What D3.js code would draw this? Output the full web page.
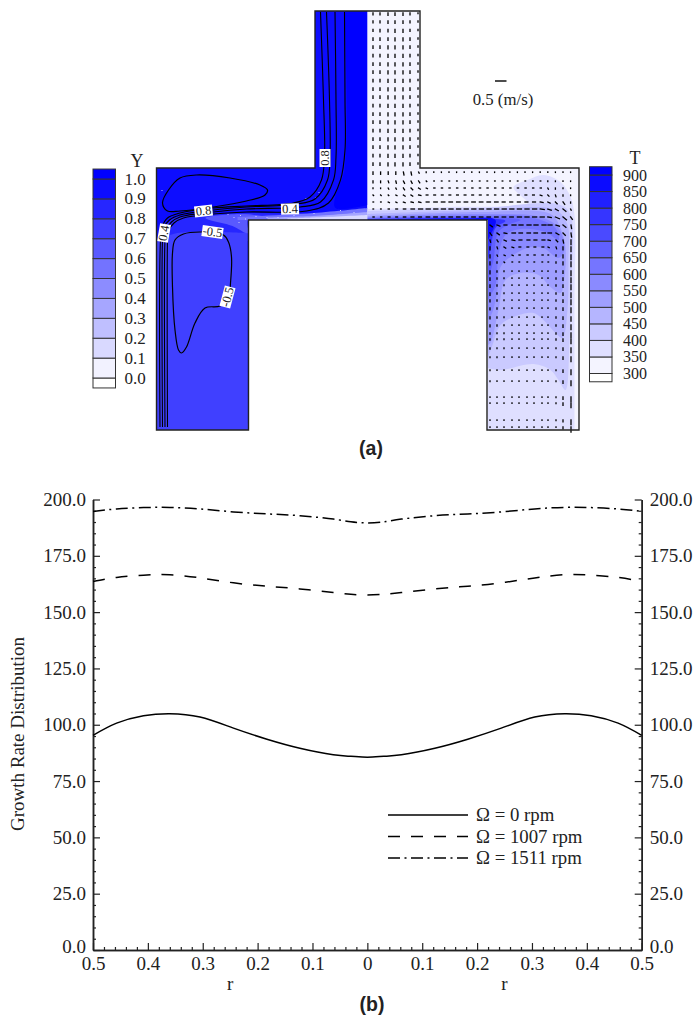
<!DOCTYPE html>
<html>
<head>
<meta charset="utf-8">
<script src="https://cdnjs.cloudflare.com/ajax/libs/d3/7.8.5/d3.min.js"></script>
<style>
body { margin: 0; background: #fff; }
text { font-family: "Liberation Serif", serif; fill: #222; }
.panel { font-family: "Liberation Sans", sans-serif; font-weight: 700; font-size: 19.5px; }
</style>
</head>
<body>
<svg id="chart" width="693" height="1016"></svg>
<script>
// panel (b) growth rate curves
const radius = [-0.5,-0.457,-0.408,-0.36,-0.305,-0.244,-0.183,-0.123,-0.062,-0.03,0,0.03,0.062,0.123,0.183,0.244,0.305,0.36,0.408,0.457,0.5]
const rate0 = [95.3,100.7,104,104.9,103.4,98.5,93.6,89.6,86.7,86,85.6,86,86.7,89.6,93.6,98.5,103.4,104.9,104,100.7,95.3]
const rate1007 = [163.6,165.4,166.4,166.6,165.2,163,161.5,160.3,158.7,157.9,157.6,157.9,158.7,160.3,161.5,163,165.2,166.6,166.4,165.4,163.6]
const rate1511 = [194.7,195.8,196.4,196.5,195.8,194.5,193.6,192.8,191.3,190.1,189.6,190.1,191.3,192.8,193.6,194.5,195.8,196.5,196.4,195.8,194.7]
const seriesNames = ["\u03a9 = 0 rpm", "\u03a9 = 1007 rpm", "\u03a9 = 1511 rpm"]
const seriesDash = [null, "12,11", "12,4.5,2,4.5"]

// panel (a) colour bars
const yLevels = [-0.05,0,0.1,0.2,0.3,0.4,0.5,0.6,0.7,0.8,0.9,1,1.05]
const yLabels = [0,0.1,0.2,0.3,0.4,0.5,0.6,0.7,0.8,0.9,1]
const tLevels = [275,300,350,400,450,500,550,600,650,700,750,800,850,900,925]
const tLabels = [300,350,400,450,500,550,600,650,700,750,800,850,900]

// reactor outline, in cell units
const cellOutline = [[-52.5,0],[52.5,0],[52.5,157],[211.5,157],[211.5,419],[119.5,419],[119.5,209],[-119,209],[-119,419],[-211,419],[-211,157],[-52.5,157]]
const leftHalf = [[-52.5,0],[0,0],[0,209],[-119,209],[-119,419],[-211,419],[-211,157],[-52.5,157]]
const rightHalf = [[0,0],[52.5,0],[52.5,157],[211.5,157],[211.5,419],[119.5,419],[119.5,209],[0,209]]

// Y field bands: [level, outline, how many trailing points are straight wall]
const yBands = [
    [0.95, leftHalf, 8],
    [1.05, [[-23,0],[-23,159],[-32,184],[-32,197],[0,194],[0,0]], 1],
    [0.85, [[-205,214],[-190,206],[-121,202],[-60,203],[0,203],[0,209],[-119.5,209],[-119.5,230],[-200,232]], 4],
    [0.75, [[-212,230],[-190,222],[-120,222],[-119.5,419],[-212,419]], 2],
    [0.65, [[-162,207],[-125,203],[-100,206],[-85,209],[-119.5,209],[-119.5,222],[-135,215]], 0],
    [0.55, [[-130,206],[-54,202],[0,197],[0,209],[-130,209]], 2],
    [0.35, [[-100,206.5],[-54,205],[0,201],[0,209],[-100,209]], 2],
    [0.15, [[-80,207.5],[-54,206.5],[0,204],[0,208],[-80,208.5]], 2]
]
const specks = [[-134,206],[-127.5,204],[-122.5,207.5],[-129,211],[-101,206],[-74,204],[-54,202],[-27.5,199],[-14,201],[-52,186],[-49,181],[-62,187],[-206,179],[-140,203],[-112,205],[-90,206]]

// T field bands, each ends on the inner wall
const tBands = [
    [325, rightHalf, 8],
    [375, [[0,198],[82,196],[160,192],[150,182],[146,176],[160,169],[176,164],[193,171],[203,186],[207,204],[207,289],[207,418],[120.5,418],[120.5,209],[0,209]], 3],
    [425, [[0,200],[113,197],[193,194],[203,204],[204,269],[202,329],[198,379],[191,369],[183,359],[166,353],[133,359],[120.5,357],[120.5,209],[0,209]], 2],
    [475, [[0,203],[113,199],[188,199],[200,214],[201,249],[200,299],[195,327],[188,322],[178,311],[166,302],[146,306],[133,314],[125,334],[120.5,347],[120.5,209],[0,209]], 2],
    [525, [[0,205],[113,201],[183,203],[193,217],[198,236],[197,266],[193,282],[183,276],[171,264],[153,262],[138,269],[131,299],[123,332],[120.5,334],[120.5,209],[0,209]], 2],
    [575, [[0,206],[113,203],[173,206],[191,217],[197,239],[191,247],[176,237],[163,236],[143,246],[133,256],[130,279],[125,301],[120.5,309],[120.5,209],[0,209]], 2],
    [625, [[0,207],[113,204.5],[163,206],[188,217],[191,229],[178,221],[153,218],[138,224],[131,244],[128,274],[120.5,289],[120.5,209],[0,209]], 2],
    [675, [[0,207.5],[118,206],[153,209],[143,213],[131,221],[126,249],[120.5,269],[120.5,209],[0,209]], 2],
    [775, [[0,208],[120,207.5],[138,210],[128,217],[123,239],[120.5,249],[120.5,209],[0,209]], 2],
    [875, [[0,208.5],[100,207.5],[128,209],[123,224],[120.5,229],[120.5,209],[0,209]], 2]
]

// Y contour lines
const contourA = [[-47,1],[-44,89],[-43,146],[-46,169],[-57.5,186],[-74,192],[-121,195],[-154,197],[-187.5,202],[-200,207],[-205.5,216],[-207,229],[-207.5,416]]
const contourB = [[-41,1],[-38,89],[-37.5,146],[-40,169],[-52.5,188],[-71,193],[-121,196],[-154,199],[-187.5,204],[-198,209],[-204,217],[-205,229],[-205,416]]
const contourC = [[-32.5,1],[-31.5,89],[-31.5,146],[-34,169],[-47,191],[-67.5,196],[-121,198],[-154,201],[-187.5,206],[-196,211],[-201.5,219],[-202.5,229],[-202.5,416]]
const contourD = [[-23,1],[-22.5,89],[-22.5,139],[-27,169],[-39,192],[-61,200],[-121,201],[-154,203],[-184,207],[-193.5,212],[-199.5,221],[-200,229],[-200,416]]
const loopUpper = [[-171,164],[-187.5,167],[-199,179],[-205,192],[-200,200],[-187.5,200],[-154,196],[-121,190],[-102.5,184],[-100,179],[-107.5,174],[-137.5,167]]
const loopLower = [[-166,221],[-184,223],[-192.5,229],[-195,242],[-195,276],[-192.5,319],[-189,339],[-186,342],[-181,336],[-172.5,312],[-162.5,297],[-147.5,295],[-139,287],[-137,272],[-136,246],[-139,231],[-144,224]]
const contourLabels = [["0.8",-42.5,147,-90],["0.8",-164,200,-6],["0.4",-77.5,198,-2],["0.4",-203.5,222,-80],["-0.5",-155,221,8],["-0.5",-140,286,-75]]

// velocity tables, one digit = 0.025 m/s
const channelX = [5.5,12.5,20.5,27.5,35.5,42.5,50.5]
const channelY = [2,10,18.5,27,35,43.5,52,60,68.5,77,85,93.5,102,110,118.5,127,135,143.5,152]
const channelV = ["3344431","3344432","3445532","4445542","4455542","4455542","4455542","4455542","4455542","4455542","4455542","4455542","4455542","4455542","4455542","4455542","4455542","4455542","4455542"]
const armX = d3.range(27).map(i => 5.5 + i * 7.6)
const armY = [161,170,177,184,191,198,206]
const armU = ["000011100000000000000000000","001122211111111111111110000","001123322222222222222221000","111233433333333222233332100","112234456666666665555554330","112346777777777777777776551","223345566666666666677776763"]
const armV = ["444455210000000000000000000","333444310000000000000001100","112233210000000000000002210","111122100000000000000012321","001111100000000000000012342","000000000000000000000012342","000000000000000000000001354"]
const legX = [122.5,129.5,136.5,144.5,151.5,159.5,166.5,174.5,180.5,188.5,195.5,203.5]
const legY = [214,222,229,236,244,251,260,267,274,282,289,297,306,314,322,328,337,346,359,370,386,392,409,416]
const legU = ["455777777651","345666666541","124555554310","013333332100","012222221000","001111111000"]
const legV = ["320000000246","431000000347","432100001358","532100001358","521100000258","521000000258","521000000248","421000000248","421000000248","421000000248","321000000248","321000000248","321000000247","321000000248","211000000248","211000000248","211000000148","110000000148","100000000148","100000000148","000000000148","000000000148","000000000138","000000000039"]

const svg = d3.select("#chart")

// scales
const xCell = d3.scaleLinear().domain([-212,212]).range([155.5,579.5])
const yCell = d3.scaleLinear().domain([0,419]).range([11,430])
const speedPx = d3.scaleLinear().domain([0,0.5]).range([0,11.5])
const shade = d3.interpolateRgb("#ffffff", "#0000ff")
const yColor = d3.scaleLinear().domain([0,1]).range([0,1]).clamp(true)
const tColor = d3.scaleLinear().domain([300,900]).range([0,1]).clamp(true)

const smoothClosed = d3.line().x(d => xCell(d[0])).y(d => yCell(d[1])).curve(d3.curveCatmullRomClosed.alpha(0.5))
const openLine = d3.line().x(d => xCell(d[0])).y(d => yCell(d[1])).curve(d3.curveCatmullRom.alpha(0.5))
const straight = d3.line().x(d => xCell(d[0])).y(d => yCell(d[1])).curve(d3.curveLinearClosed)

// smooth edge, then straight along the walls
function bandPath(d) {
    const pts = d[1], wall = d[2]
    if (wall == 0) return smoothClosed(pts)
    if (wall >= pts.length) return straight(pts)
    const edge = pts.slice(0, pts.length - wall)
    const rest = pts.slice(pts.length - wall)
    return openLine(edge) + rest.map(p => "L" + xCell(p[0]) + "," + yCell(p[1])).join("") + "Z"
}

const defs = svg.append("defs")
defs.append("clipPath").attr("id", "clipLeft").append("path").attr("d", straight(leftHalf))
defs.append("clipPath").attr("id", "clipRight").append("path").attr("d", straight(rightHalf))

// Y field
const leftField = svg.append("g").attr("clip-path", "url(#clipLeft)")
leftField.selectAll("path")
    .data(yBands)
    .enter().append("path")
    .attr("d", bandPath)
    .attr("fill", d => shade(yColor(d[0])))
leftField.selectAll("rect")
    .data(specks)
    .enter().append("rect")
    .attr("x", d => xCell(d[0]))
    .attr("y", d => yCell(d[1]))
    .attr("width", 1)
    .attr("height", 1)
    .attr("fill", "#fff")
    .attr("opacity", 0.7)

// T field
const rightField = svg.append("g").attr("clip-path", "url(#clipRight)")
rightField.selectAll("path")
    .data(tBands)
    .enter().append("path")
    .attr("d", bandPath)
    .attr("fill", d => shade(tColor(d[0])))

// contour lines
svg.append("g").selectAll("path")
    .data([contourA, contourB, contourC, contourD])
    .enter().append("path")
    .attr("d", d => openLine(d))
    .attr("fill", "none")
    .attr("stroke", "#000")
    .attr("stroke-width", 1.1)
svg.append("g").selectAll("path")
    .data([loopUpper, loopLower])
    .enter().append("path")
    .attr("d", d => smoothClosed(d))
    .attr("fill", "none")
    .attr("stroke", "#000")
    .attr("stroke-width", 1.2)

const tag = svg.append("g").selectAll("g")
    .data(contourLabels)
    .enter().append("g")
    .attr("transform", d => "translate(" + xCell(d[1]) + "," + yCell(d[2]) + ") rotate(" + d[3] + ")")
tag.append("rect")
    .attr("x", d => d[0].length > 3 ? -10.5 : -9)
    .attr("y", -5.5)
    .attr("width", d => d[0].length > 3 ? 21 : 18)
    .attr("height", 11)
    .attr("fill", "#fff")
tag.append("text")
    .attr("text-anchor", "middle")
    .attr("y", 4)
    .attr("font-size", "12.5px")
    .text(d => d[0])

// velocity vectors
const vectors = []
function addVectors(xs, ys, us, vs) {
    ys.forEach(function(y, i) {
        xs.forEach(function(x, j) {
            const u = us[i] ? +us[i][j] * 0.025 : 0
            const v = vs[i] ? +vs[i][j] * 0.025 : 0
            vectors.push({ x: x, y: y, u: u, v: v })
        })
    })
}
addVectors(channelX, channelY, [], channelV)
addVectors(armX, armY, armU, armV)
addVectors(legX, legY, legU, legV)

svg.append("g").selectAll("line")
    .data(vectors)
    .enter().append("line")
    .attr("x1", d => xCell(d.x))
    .attr("y1", d => yCell(d.y))
    .attr("x2", d => xCell(d.x) + speedPx(d.u))
    // still vectors keep a visible dot
    .attr("y2", d => yCell(d.y) + speedPx(d.u + d.v > 0 ? d.v : 0.02))
    .attr("stroke", "#000")
    .attr("stroke-width", 1.3)
    .attr("stroke-linecap", "square")

// outline on top
svg.append("path")
    .attr("d", straight(cellOutline))
    .attr("fill", "none")
    .attr("stroke", "#222")
    .attr("stroke-width", 1.4)

// reference vector
const refX = xCell(127.5), refY = yCell(70)
svg.append("line")
    .attr("x1", refX)
    .attr("x2", refX + speedPx(0.5))
    .attr("y1", refY)
    .attr("y2", refY)
    .attr("stroke", "#000")
    .attr("stroke-width", 1.4)
svg.append("text")
    .attr("x", 503)
    .attr("y", 105)
    .attr("text-anchor", "middle")
    .attr("font-size", "16.8px")
    .text("0.5 (m/s)")

// colour bars
function colorBar(levels, labels, scale, color, x0, x1, labelX, size, fmt, title, titleX, titleY) {
    const g = svg.append("g")
    g.selectAll("rect")
        .data(d3.pairs(levels))
        .enter().append("rect")
        .attr("x", x0)
        .attr("width", x1 - x0)
        .attr("y", d => scale(d[1]))
        .attr("height", d => scale(d[0]) - scale(d[1]))
        .attr("fill", d => shade(color((d[0] + d[1]) / 2)))
        .attr("stroke", "#333")
        .attr("stroke-width", 1)
    g.selectAll("text")
        .data(labels)
        .enter().append("text")
        .attr("x", labelX)
        .attr("y", d => scale(d) + 5.5)
        .attr("font-size", size + "px")
        .text(fmt)
    g.append("text")
        .attr("x", titleX)
        .attr("y", titleY)
        .attr("text-anchor", "middle")
        .attr("font-size", "18px")
        .text(title)
}
colorBar(yLevels, yLabels, d3.scaleLinear().domain([0,1]).range([378,179]), yColor, 93, 115.5, 124.5, 17, d3.format(".1f"), "Y", 137, 167)
colorBar(tLevels, tLabels, d3.scaleLinear().domain([300,900]).range([373.5,175]), tColor, 589.5, 612, 623, 16, d => d, "T", 635, 164)

svg.append("text").attr("class", "panel").attr("x", 371).attr("y", 455).attr("text-anchor", "middle").text("(a)")

// panel (b)
const x = d3.scaleLinear().domain([-0.5,0.5]).range([93,641.7])
const y = d3.scaleLinear().domain([0,200]).range([950,499.5])

const yMajor = d3.range(0, 201, 25)
const yMinor = d3.range(0, 201, 5).filter(d => d % 25 != 0)
const xMajor = d3.range(-5, 6).map(d => d / 10)
const xMinor = d3.range(-50, 51, 2).filter(d => d % 10 != 0).map(d => d / 100)
const yFmt = d3.format(".1f")
const xFmt = d => Math.abs(d) < 1e-9 ? "0" : d3.format(".1f")(Math.abs(d))

function styleAxis(g) {
    g.selectAll("text").attr("font-size", "19px").attr("fill", "#222")
        .style("font-family", '"Liberation Serif", serif')
    g.select(".domain").attr("stroke", "#222").attr("stroke-width", 1.5)
    g.selectAll(".tick line").attr("stroke", "#222").attr("stroke-width", 1.2)
}
// the 0.0 label sits a little above the corner
function liftZero(g) {
    g.selectAll(".tick").filter(d => d == 0).select("text").attr("dy", "0.12em")
}

svg.append("g").attr("transform", "translate(93,0)")
    .call(d3.axisLeft(y).tickValues(yMajor).tickFormat(yFmt).tickSizeInner(-7).tickSizeOuter(0).tickPadding(7))
    .call(styleAxis).call(liftZero)
svg.append("g").attr("transform", "translate(93,0)")
    .call(d3.axisLeft(y).tickValues(yMinor).tickFormat("").tickSizeInner(-3).tickSizeOuter(0))
    .call(styleAxis)
svg.append("g").attr("transform", "translate(641.7,0)")
    .call(d3.axisRight(y).tickValues(yMajor).tickFormat(yFmt).tickSizeInner(-7).tickSizeOuter(0).tickPadding(8))
    .call(styleAxis).call(liftZero)
svg.append("g").attr("transform", "translate(641.7,0)")
    .call(d3.axisRight(y).tickValues(yMinor).tickFormat("").tickSizeInner(-3).tickSizeOuter(0))
    .call(styleAxis)
svg.append("g").attr("transform", "translate(0,950)")
    .call(d3.axisBottom(x).tickValues(xMajor).tickFormat(xFmt).tickSizeInner(-7).tickSizeOuter(0).tickPadding(7))
    .call(styleAxis)
svg.append("g").attr("transform", "translate(0,950)")
    .call(d3.axisBottom(x).tickValues(xMinor).tickFormat("").tickSizeInner(-3).tickSizeOuter(0))
    .call(styleAxis)

const curve = d3.line()
    .x((d, i) => x(radius[i]))
    .y(d => y(d))
    .curve(d3.curveNatural)

svg.append("g").selectAll("path")
    .data([rate0, rate1007, rate1511])
    .enter().append("path")
    .attr("d", d => curve(d))
    .attr("fill", "none")
    .attr("stroke", "#000")
    .attr("stroke-width", 1.5)
    .attr("stroke-dasharray", (d, i) => seriesDash[i])

// legend
const legendY = d3.scalePoint().domain(seriesNames).range([815,858])
const legend = svg.append("g").selectAll("g")
    .data(seriesNames)
    .enter().append("g")
legend.append("line")
    .attr("x1", 388)
    .attr("x2", 468)
    .attr("y1", d => legendY(d))
    .attr("y2", d => legendY(d))
    .attr("stroke", "#000")
    .attr("stroke-width", 1.5)
    .attr("stroke-dasharray", (d, i) => seriesDash[i])
legend.append("text")
    .attr("x", 476)
    .attr("y", d => legendY(d) + 6)
    .attr("font-size", "18.8px")
    .text(d => d)

// axis titles
svg.append("text")
    .attr("transform", "translate(24,734) rotate(-90)")
    .attr("text-anchor", "middle")
    .attr("font-size", "19px")
    .text("Growth Rate Distribution")
svg.selectAll(".rlabel")
    .data([-0.25, 0.25])
    .enter().append("text")
    .attr("x", d => x(d))
    .attr("y", 990)
    .attr("text-anchor", "middle")
    .attr("font-size", "19px")
    .text("r")
svg.append("text").attr("class", "panel").attr("x", 372).attr("y", 1011).attr("text-anchor", "middle").text("(b)")
</script>
</body>
</html>
